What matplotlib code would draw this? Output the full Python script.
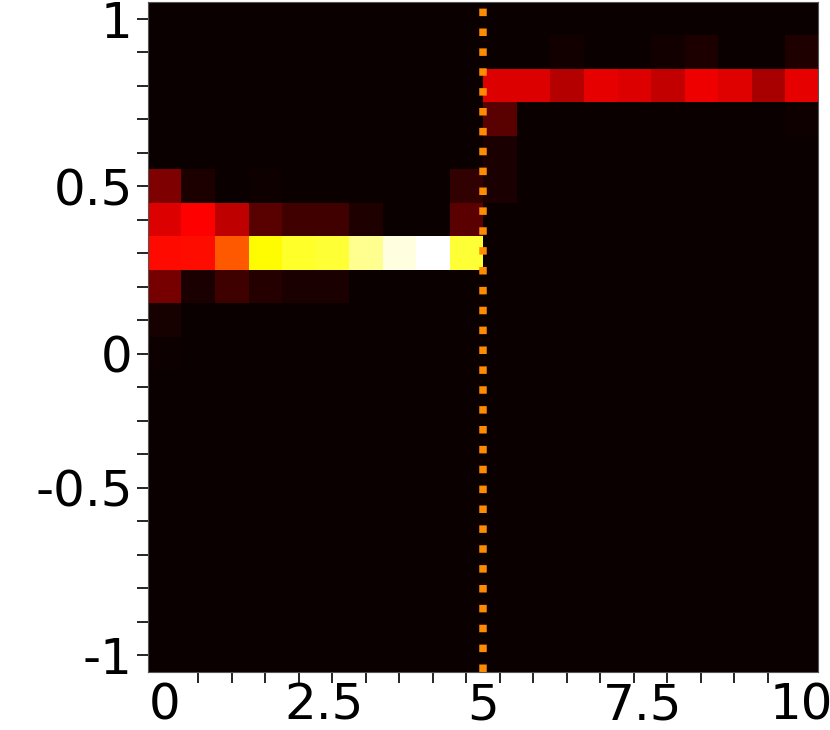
import numpy as np
import matplotlib
matplotlib.use('Agg')
import matplotlib.pyplot as plt

# Heatmap values (20 x 20), row 0 is the top row (y = 1), normalised so max = 1
n_cols = 20
n_rows = 20

row1 = {12: 0.014, 15: 0.014, 16: 0.029, 19: 0.032}
row2 = {10: 0.314, 11: 0.314, 12: 0.255, 13: 0.331, 14: 0.313,
        15: 0.277, 16: 0.343, 17: 0.319, 18: 0.235, 19: 0.331}
row3 = {10: 0.119, 19: 0.011}
row4 = {10: 0.026}
row5 = {0: 0.175, 1: 0.029, 3: 0.011, 9: 0.060, 10: 0.026}
row6 = {0: 0.314, 1: 0.365, 2: 0.271, 3: 0.119, 4: 0.085, 5: 0.085, 6: 0.032, 9: 0.122}
row7 = {0: 0.380, 1: 0.383, 2: 0.499, 3: 0.740, 4: 0.786, 5: 0.800,
        6: 0.890, 7: 0.965, 8: 1.000, 9: 0.797}
row8 = {0: 0.163, 1: 0.026, 2: 0.080, 3: 0.041, 4: 0.026, 5: 0.026}
row9 = {0: 0.023}
row10 = {0: 0.005}

rows = {1: row1, 2: row2, 3: row3, 4: row4, 5: row5, 6: row6,
        7: row7, 8: row8, 9: row9, 10: row10}

grid = np.zeros((n_rows, n_cols))
for r, cells in rows.items():
    for c, v in cells.items():
        grid[r, c] = v

x_min, x_max = 0, 10
y_min, y_max = -1, 1
switch_x = 5

x_labels = ['0', '2.5', '5', '7.5', '10']
x_label_pos = [0, 2.5, 5, 7.5, 10]
y_labels = {0: '1', 5: '0.5', 10: '0', 14: '-0.5', 19: '-1'}

x_centers = np.linspace(x_min, x_max, n_cols)
y_centers = np.linspace(y_max, y_min, n_rows)
dx = x_centers[1] - x_centers[0]
dy = y_centers[0] - y_centers[1]

fig = plt.figure(figsize=(8.3, 7.3), dpi=100)
ax = fig.add_axes([148 / 830, 1 - 672 / 730, 670 / 830, 670 / 730])

ax.imshow(grid, cmap='hot', vmin=0, vmax=1, interpolation='nearest', aspect='auto',
          extent=[x_min - dx / 2, x_max + dx / 2, y_min - dy / 2, y_max + dy / 2])
ax.axvline(switch_x, color='darkorange', linestyle=':', linewidth=5.4)

# x: small tick marks at every column, labels at real positions
ax.set_xticks(x_label_pos)
ax.set_xticklabels(x_labels)
ax.set_xticks(x_centers, minor=True)
ax.tick_params(axis='x', which='major', length=0, pad=7)
ax.tick_params(axis='x', which='minor', length=8, width=1.2)

# y: tick mark at every row, labels on a few rows
ax.set_yticks(y_centers)
ax.set_yticklabels([y_labels.get(i, '') for i in range(n_rows)])
ax.tick_params(axis='y', length=8, width=1.2, pad=3)

ax.tick_params(labelsize=36)
for s in ax.spines.values():
    s.set_linewidth(0.8)
    s.set_color('#555555')

plt.savefig('out.png', dpi=100)
